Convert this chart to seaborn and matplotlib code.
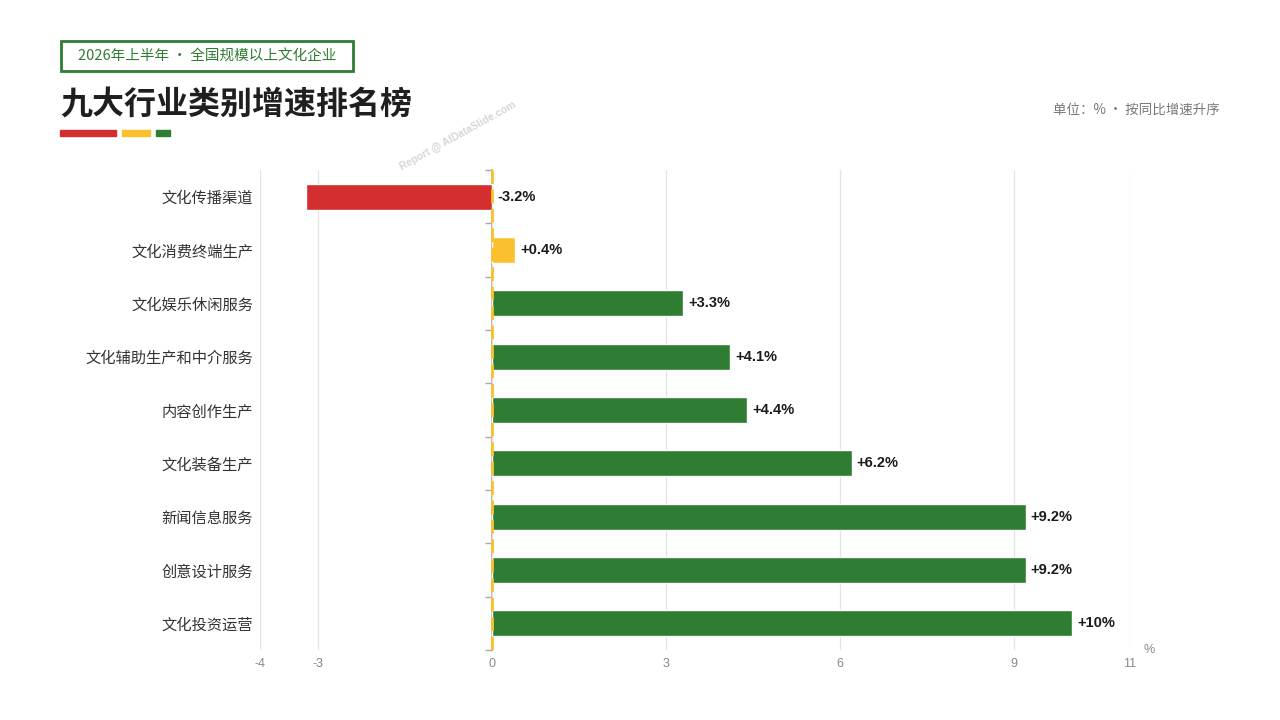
import matplotlib
matplotlib.use("Agg")
import matplotlib.pyplot as plt
from matplotlib.patches import Rectangle
import seaborn as sns
import pandas as pd

# data
categories = ["文化传播渠道", "文化消费终端生产", "文化娱乐休闲服务", "文化辅助生产和中介服务",
              "内容创作生产", "文化装备生产", "新闻信息服务", "创意设计服务", "文化投资运营"]
growth = [-3.2, 0.4, 3.3, 4.1, 4.4, 6.2, 9.2, 9.2, 10.0]
x_ticks = [-4, -3, 0, 3, 6, 9, 11]

RED, YELLOW, GREEN = "#D32F2F", "#FBC02D", "#2E7D32"


def bar_color(v):
    if v < 0:
        return RED
    if v < 1:
        return YELLOW
    return GREEN


df = pd.DataFrame({"cat": categories, "val": growth})
palette = {c: bar_color(v) for c, v in zip(categories, growth)}

sns.set_theme(style="white")
plt.rcParams["font.family"] = ["Noto Sans CJK SC", "DejaVu Sans"]
plt.rcParams["axes.unicode_minus"] = False

fig = plt.figure(figsize=(12.8, 7.2), dpi=100)
ax = fig.add_axes([260 / 1280, 70 / 720, 870 / 1280, 480 / 720])

sns.barplot(data=df, x="val", y="cat", hue="cat", palette=palette, orient="h",
            width=0.49, legend=False, ax=ax, saturation=1, zorder=3)

ax.set_xlim(-4, 11)
ax.set_ylim(len(categories) - 0.5, -0.5)
ax.set_xticks(x_ticks)
ax.set_xticklabels([str(t) for t in x_ticks], family=["Liberation Sans", "DejaVu Sans"])
ax.set_xlabel("")
ax.set_ylabel("")
ax.grid(axis="x", color="#e3e3e3", lw=0.9, zorder=0)
ax.grid(axis="y", visible=False)
for s in ax.spines.values():
    s.set_visible(False)
ax.tick_params(axis="x", length=0, pad=6, labelsize=9, labelcolor="#888888")
ax.tick_params(axis="y", length=0, pad=5, labelsize=11, labelcolor="#333333")

# zero axis with boundary ticks
sec = ax.secondary_yaxis(0, transform=ax.transData)
sec.set_yticks([i - 0.5 for i in range(len(categories) + 1)])
sec.set_yticklabels([])
sec.tick_params(length=5, color="#aaaaaa", width=1)
sec.spines["left"].set_color("#aaaaaa")
ax.axvline(0, color=YELLOW, lw=2, ls=(0, (5, 2)), zorder=5)

for i, v in enumerate(growth):
    lbl = f"{v:+.1f}%" if v != int(v) else f"{v:+.0f}%"
    ax.text(max(v, 0) + 0.09, i, lbl, va="center", ha="left", fontsize=10.5,
            fontweight="bold", color="#1a1a1a", family=["Liberation Sans", "DejaVu Sans"], zorder=6)

ax.text(1.015, 0.0, "%", transform=ax.transAxes, fontsize=9, color="#888888", va="center",
        family=["Liberation Sans", "DejaVu Sans"])

# header
fig.patches.append(Rectangle((61 / 1280, 1 - 71 / 720), 292 / 1280, 30 / 720,
                             transform=fig.transFigure, fill=False, edgecolor=GREEN, lw=2))
fig.text(207 / 1280, 1 - 56 / 720, "2026年上半年 · 全国规模以上文化企业", ha="center", va="center",
         fontsize=10.5, color=GREEN)
fig.text(60 / 1280, 1 - 106 / 720, "九大行业类别增速排名榜", ha="left", va="center",
         fontsize=23, fontweight="bold", color="#1f1f1f")
for x0, w, c in [(60, 56, RED), (122, 28, YELLOW), (156, 14, GREEN)]:
    fig.patches.append(Rectangle((x0 / 1280, 1 - 136 / 720), w / 1280, 6 / 720,
                                 transform=fig.transFigure, color=c))
fig.text(1220 / 1280, 1 - 110 / 720, "单位：% · 按同比增速升序", ha="right", va="center",
         fontsize=9.7, color="#777777")
fig.text(458 / 1280, 1 - 136 / 720, "Report @ AIDataSlide.com", ha="center", va="center",
         rotation=29, fontsize=7.5, color="#cccccc", fontweight="bold", alpha=0.8,
         family=["Liberation Sans", "DejaVu Sans"])

fig.savefig("out.png", dpi=100)
